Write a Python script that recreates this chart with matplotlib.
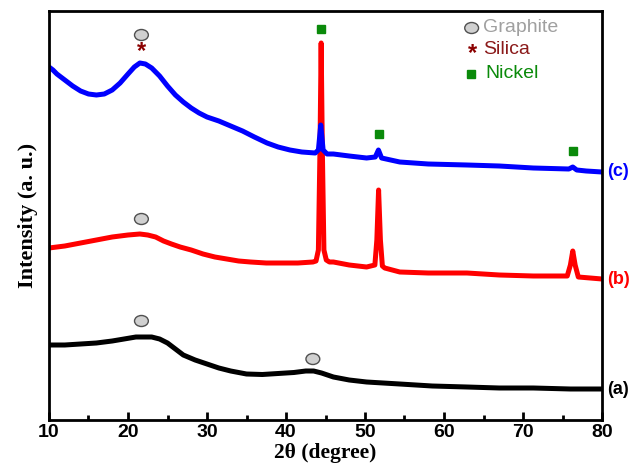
import matplotlib.pyplot as plt
from matplotlib.patches import Ellipse
from matplotlib.ticker import MultipleLocator

# values (y = arbitrary intensity units, top of plot is small)
x_c = [10, 10.5, 11, 12, 13, 14, 15, 16, 17, 18, 19, 20, 20.8, 21.5, 22.2, 23, 24, 25,
       26, 27, 28, 29, 30, 31.5, 33, 34.5, 36, 37.6, 39, 40.5, 42, 43.7, 44.1, 44.4,
       44.7, 45.2, 46, 48, 50.2, 51.3, 51.7, 52.1, 54.4, 58, 62.9, 67, 71.3, 75.8, 76.3,
       76.8, 78, 80]
y_c = [67, 70, 74, 80, 86, 91, 94, 95, 94, 90, 83, 74, 67, 63, 64, 68, 76, 86,
       95, 102, 108, 113, 117, 121, 126, 131, 137, 143, 147, 150, 152, 153, 150, 125,
       150, 154, 154, 156, 158, 157, 150, 158, 162, 164, 165, 166, 168, 169, 167,
       170, 171, 172]

x_b = [10, 12, 14, 16, 18, 20, 21.5, 22.5, 23.5, 24.5, 25.5, 26.6, 28, 29.5, 31, 32.5,
       34, 35.5, 37.5, 39.6, 41.5, 43.4, 43.8, 44.1, 44.3, 44.45, 44.6, 44.8, 45.1, 45.5,
       46, 48, 50.2, 51.25, 51.5, 51.72, 51.95, 52.2, 52.5, 54.4, 58, 62.9, 67, 71.3,
       75.6, 76.0, 76.3, 76.6, 77.0, 80]
y_b = [248, 246, 243, 240, 237, 235, 234, 235, 237, 241, 244, 247, 250, 254, 257, 259,
       261, 262, 263, 263, 263, 262, 261, 250, 150, 43, 150, 250, 260, 262,
       262, 265, 267, 265, 240, 190, 240, 266, 268, 272, 273, 273, 275, 276,
       276, 265, 251, 265, 277, 279]

x_a = [10, 12, 14, 16, 18, 19.5, 21, 22, 23, 24, 25, 26, 27, 28.5, 30, 31.5, 33, 35,
       37, 39, 41, 42.5, 43.5, 44.5, 46, 48, 50.2, 54.4, 58.5, 62.9, 67, 71.3, 76, 80]
y_a = [345, 345, 344, 343, 341, 339, 337, 337, 337, 339, 343, 349, 355, 360, 364, 368,
       371, 374, 374.5, 373.5, 372.5, 371, 371, 373, 377, 380, 382, 384, 386, 387, 388,
       388, 389, 389]

graphite_pts = [(21.7, 35), (21.7, 219), (21.7, 321), (43.4, 359)]
silica_pts = [(21.7, 52)]
nickel_pts = [(44.4, 29), (51.8, 134), (76.3, 151)]

curve_labels = ["(c)", "(b)", "(a)"]
label_y = [172, 279, 389]
colors = ["#0000ff", "#ff0000", "#000000"]

fig = plt.figure(figsize=(6.29, 4.68), dpi=100)
ax = fig.add_axes([49 / 629, 48 / 468, 553 / 629, 409 / 468])

# red first so the blue nickel peak stays visible on top of it
for xs, ys, c in [(x_b, y_b, colors[1]), (x_c, y_c, colors[0]), (x_a, y_a, colors[2])]:
    ax.plot(xs, ys, color=c, lw=3.6, solid_joinstyle="round")

ax.set_xlim(10, 80)
ax.set_ylim(420, 11)

for gx, gy in graphite_pts:
    ax.add_patch(Ellipse((gx, gy), 1.75, 11, facecolor="#d0d0d0", edgecolor="#505050",
                         lw=1, zorder=5))
for sx, sy in silica_pts:
    ax.text(sx, sy, "*", color="#8b0000", fontsize=17, fontweight="bold",
            family="Liberation Sans", ha="center", va="center")
for nx, ny in nickel_pts:
    ax.plot(nx, ny, "s", color="#0a8a0a", ms=5.5, zorder=5)

# legend in the top right corner
ax.add_patch(Ellipse((63.5, 28), 1.75, 11, facecolor="#d0d0d0", edgecolor="#505050", lw=1))
ax.text(64.9, 28, "Graphite", color="#a0a0a0", fontsize=14, family="Liberation Sans",
        va="center")
ax.text(63.6, 54, "*", color="#8b0000", fontsize=17, fontweight="bold",
        family="Liberation Sans", ha="center", va="center")
ax.text(64.9, 50, "Silica", color="#8b1a1a", fontsize=14, family="Liberation Sans",
        va="center")
ax.plot(63.4, 74, "s", color="#0a8a0a", ms=5.5)
ax.text(65.3, 73, "Nickel", color="#0a8a0a", fontsize=14, family="Liberation Sans",
        va="center")

for lab, ly, c in zip(curve_labels, label_y, colors):
    ax.text(80.6, ly, lab, color=c, fontsize=13, fontweight="bold",
            family="Liberation Sans", va="center", clip_on=False)

for s in ax.spines.values():
    s.set_linewidth(2)

ax.xaxis.set_major_locator(MultipleLocator(10))
ax.xaxis.set_minor_locator(MultipleLocator(5))
ax.tick_params(axis="x", which="major", direction="in", length=6, width=2,
               labelsize=14, pad=3)
ax.tick_params(axis="x", which="minor", direction="in", length=3.5, width=2)
ax.set_yticks([])
for t in ax.get_xticklabels():
    t.set_fontweight("bold")
    t.set_family("Liberation Sans")

ax.set_xlabel("2θ (degree)", fontsize=15.5, fontweight="bold", family="Liberation Serif",
              labelpad=1)
ax.set_ylabel("Intensity (a. u.)", fontsize=16, fontweight="bold",
              family="Liberation Serif", labelpad=8)

fig.savefig("out.png", dpi=100)
